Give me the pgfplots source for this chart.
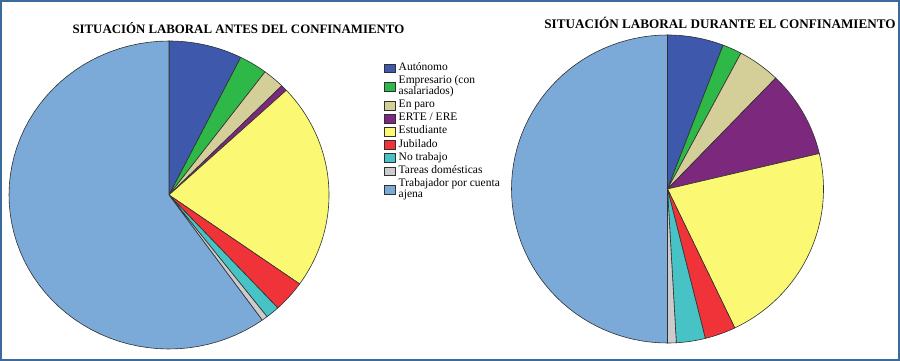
\documentclass[border=0pt]{standalone}
\usepackage{pgfplots}
\pgfplotsset{compat=1.18}
\usepackage{fontspec}
\setmainfont{Liberation Serif}

\definecolor{autonomo}{HTML}{3E58AC}
\definecolor{empresario}{HTML}{2EB848}
\definecolor{enparo}{HTML}{D4CF99}
\definecolor{erte}{HTML}{7B287D}
\definecolor{estudiante}{HTML}{FBF873}
\definecolor{jubilado}{HTML}{EF3338}
\definecolor{notrabajo}{HTML}{48C3C5}
\definecolor{tareas}{HTML}{CCCCCC}
\definecolor{trabajador}{HTML}{7BAAD8}
\definecolor{framecol}{HTML}{3B6A9C}
\definecolor{edge}{HTML}{303030}

\newcommand\lgd[1]{\begin{tabular}[b]{@{}l@{}}#1\end{tabular}}

% draws a pie clockwise from 12 o'clock; list of colour/percentage
\newcommand\drawpie[1]{%
  \gdef\cum{0}%
  \foreach \c/\v in {#1}{%
    \pgfmathsetmacro\a{\cum*3.6}%
    \pgfmathsetmacro\b{(\cum+\v)*3.6}%
    \edef\temp{\noexpand\addplot[pieslice, fill=\c, domain=\a:\b] ({sin(x)},{cos(x)}) -- (axis cs:0,0) -- cycle;}%
    \temp
    \pgfmathsetmacro\newcum{\cum+\v}%
    \global\let\cum\newcum
  }%
}

\pgfplotsset{
  pieslice/.style={draw=edge, line width=0.6bp, samples=61, mark=none},
  pieaxis/.style={anchor=center, xmin=-1, xmax=1, ymin=-1, ymax=1, hide axis, clip=false},
}

\begin{document}
\begin{tikzpicture}
\useasboundingbox (0,0) rectangle (900bp,361bp);
\draw[framecol, line width=2bp] (1bp,1bp) rectangle (899bp,360bp);

\node[anchor=base, font=\bfseries\fontsize{12.85bp}{14bp}\selectfont] at (238.4bp,327.7bp) {SITUACIÓN LABORAL ANTES DEL CONFINAMIENTO};
\node[anchor=base, font=\bfseries\fontsize{13.15bp}{14bp}\selectfont] at (720bp,332.7bp) {SITUACIÓN LABORAL DURANTE EL CONFINAMIENTO};

% Antes del confinamiento
\begin{axis}[pieaxis,
  at={(169bp,166bp)}, x={(160bp,0)}, y={(0,154bp)},
  legend entries={\lgd{Autónomo}, \lgd{Empresario (con\\asalariados)}, \lgd{En paro}, \lgd{ERTE / ERE}, \lgd{Estudiante}, \lgd{Jubilado}, \lgd{No trabajo}, \lgd{Tareas domésticas}, \lgd{Trabajador por cuenta\\ajena}},
  legend cell align=left,
  legend style={at={(1.172,0.931)}, anchor=north west, draw=none, fill=none,
    inner sep=0pt, row sep=1.9bp, column sep=3bp,
    font=\fontsize{11.5bp}{11bp}\selectfont, nodes={inner sep=0pt, text depth=3.3bp}},
  legend image code/.code={\draw[#1, draw=edge, line width=0.5bp] (0bp,-4.3bp) rectangle (11bp,4.3bp);},
]
\drawpie{autonomo/7.4, empresario/2.85, enparo/2.2, erte/0.65, estudiante/21.7, jubilado/3.3, notrabajo/1.4, tareas/0.6, trabajador/59.9}
\end{axis}

% Durante el confinamiento
\begin{axis}[pieaxis,
  at={(667.5bp,172bp)}, x={(156bp,0)}, y={(0,154bp)},
]
\drawpie{autonomo/5.8, empresario/2.0, enparo/4.4, erte/9.1, estudiante/21.6, jubilado/3.2, notrabajo/3.0, tareas/0.9, trabajador/50.0}
\end{axis}
\end{tikzpicture}
\end{document}
